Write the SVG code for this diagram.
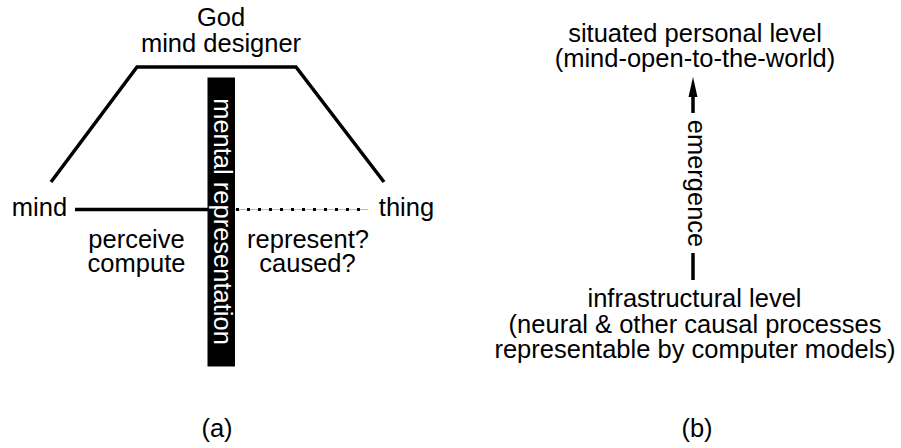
<svg xmlns="http://www.w3.org/2000/svg" width="901" height="448" viewBox="0 0 901 448">
<style>
text{font-family:"Liberation Sans",Arial,sans-serif;font-size:25.5px;fill:#000;text-anchor:middle}
.ln{fill:none;stroke:#000;stroke-width:3.5}
.wt{fill:#fff}
</style>
<rect width="901" height="448" fill="#fff"/>
<g id="connectors">
<polyline class="ln" points="51,182 137,67 296,67 384,182"/>
<line class="ln" x1="75" y1="209.5" x2="208" y2="209.5" stroke-width="3"/>
<line x1="235" y1="209.5" x2="368" y2="209.5" stroke="#bbb" stroke-width="1"/>
<line x1="236" y1="209.5" x2="368" y2="209.5" stroke="#000" stroke-width="3" stroke-dasharray="3 8"/>
<line class="ln" x1="693" y1="113" x2="693" y2="95" stroke-width="3"/>
<polygon points="693,77 688.5,97 697.5,97" fill="#000"/>
<line class="ln" x1="693" y1="253" x2="693" y2="280" stroke-width="3"/>
</g>
<g id="god"><text x="221" y="26">God</text><text x="221" y="52">mind designer</text></g>
<g id="mind"><text x="39.5" y="216">mind</text></g>
<g id="thing"><text x="406.5" y="216">thing</text></g>
<g id="mental-representation">
<rect x="207.5" y="77.5" width="27.5" height="289" fill="#000"/>
<text class="wt" transform="translate(213.5,221.5) rotate(90)" x="0" y="0" font-size="26">mental representation</text>
</g>
<g id="perceive"><text x="136.5" y="248">perceive</text><text x="136.5" y="272">compute</text></g>
<g id="represent"><text x="308" y="248">represent?</text><text x="307.5" y="272">caused?</text></g>
<g id="caption-a"><text x="217" y="437">(a)</text></g>
<g id="situated"><text x="695" y="42">situated personal level</text><text x="695" y="67">(mind-open-to-the-world)</text></g>
<g id="emergence"><text transform="translate(688,183.5) rotate(90)" x="0" y="0">emergence</text></g>
<g id="infrastructural"><text x="694.5" y="307">infrastructural level</text><text x="695" y="333">(neural &amp; other causal processes</text><text x="695" y="358">representable by computer models)</text></g>
<g id="caption-b"><text x="697" y="437">(b)</text></g>
</svg>
